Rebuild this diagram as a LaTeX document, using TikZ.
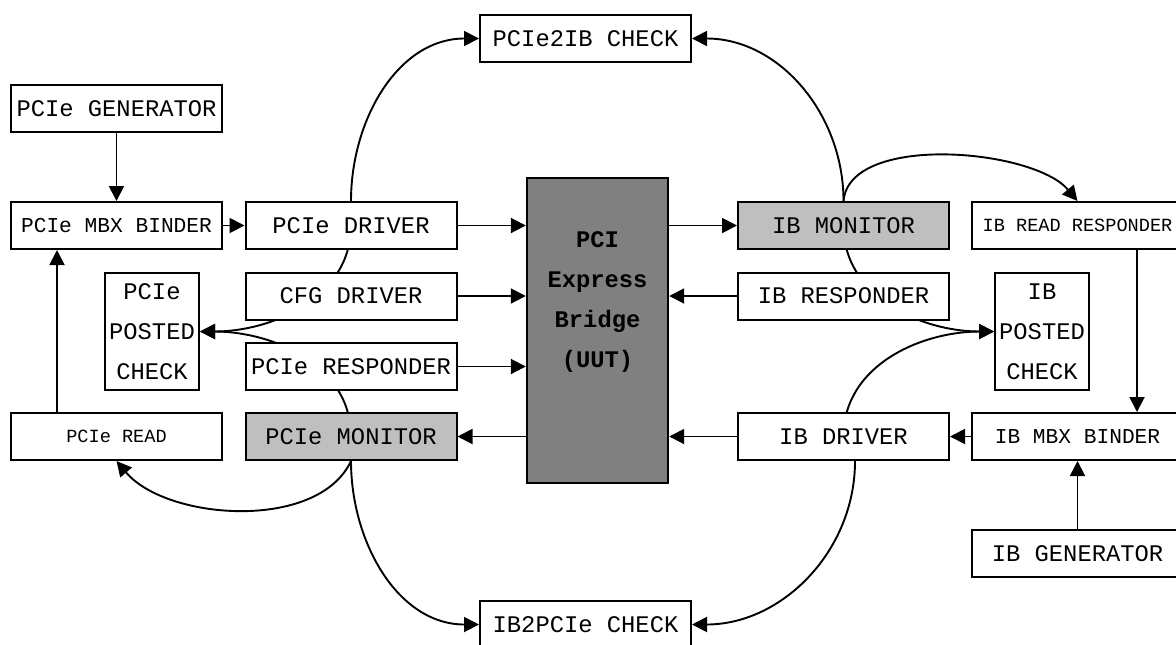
\documentclass[tikz,border=0pt]{standalone}
\usepackage{fontspec}
\setmonofont{Liberation Mono}
\usetikzlibrary{positioning,calc,arrows.meta,backgrounds}

\begin{document}
\begin{tikzpicture}[x=0.5pt,y=0.5pt,
	box/.style={draw,line width=1pt,fill=white,minimum width=105.5pt,minimum height=23.5pt,inner sep=0pt,font=\ttfamily\fontsize{11.9}{14}\selectfont},
	monbox/.style={box,fill=black!25},
	mbxbox/.style={box,font=\ttfamily\fontsize{10.6}{13}\selectfont},
	readbox/.style={box,font=\ttfamily\fontsize{9.3}{11}\selectfont},
	postbox/.style={box,minimum width=47pt,minimum height=58.5pt,align=center,font=\ttfamily\fontsize{11.9}{20}\selectfont},
	uutbox/.style={draw,line width=1.2pt,fill=black!50,minimum width=70.5pt,minimum height=152.5pt,inner sep=0pt},
	uuttext/.style={align=center,inner sep=0pt,font=\ttfamily\bfseries\fontsize{11.9}{20}\selectfont},
	arr/.style={line width=0.95pt,-{Triangle[length=7.5pt,width=7.5pt]}}]
	\useasboundingbox (0,0) rectangle (1176,-644);

	\node[box] (pgen) at (116.5,-108.5) {PCIe GENERATOR};
	\node[mbxbox] (pbind) at (116.5,-225.5) {PCIe MBX BINDER};
	\node[readbox] (pread) at (116.5,-436.5) {PCIe READ};
	\node[postbox] (pchk) at (152,-331.5) {PCIe\\POSTED\\CHECK};
	\node[box] (pdrv) at (351,-225.5) {PCIe DRIVER};
	\node[box] (cfg) at (351,-296) {CFG DRIVER};
	\node[box] (presp) at (351,-366.5) {PCIe RESPONDER};
	\node[monbox] (pmon) at (351,-436.5) {PCIe MONITOR};

	\node[uutbox] (uut) at (597.5,-330.5) {};
	\node[uuttext] (uuttxt) at (597.5,-302) {PCI\\Express\\Bridge\\(UUT)};
	\node[box] (p2ib) at (585.5,-38.5) {PCIe2IB CHECK};
	\node[box] (ib2p) at (585.5,-624.5) {IB2PCIe CHECK};

	\node[monbox] (ibmon) at (843.5,-225.5) {IB MONITOR};
	\node[box] (ibresp) at (843.5,-296) {IB RESPONDER};
	\node[box] (ibdrv) at (843.5,-436.5) {IB DRIVER};
	\node[readbox] (ibread) at (1077.5,-225.5) {IB READ RESPONDER};
	\node[postbox] (ibchk) at (1042,-331.5) {IB\\POSTED\\CHECK};
	\node[mbxbox] (ibbind) at (1077.5,-436.5) {IB MBX BINDER};
	\node[box] (ibgen) at (1077.5,-553.5) {IB GENERATOR};

	\begin{scope}[on background layer]
		\draw[arr] (pdrv.center) to[out=-90,in=0] (pchk.east);
		\draw[arr] (pmon.center) to[out=90,in=0] (pchk.east);
		\draw[arr] (ibmon.center) to[out=-90,in=180] (ibchk.west);
		\draw[arr] (ibdrv.center) to[out=90,in=180] (ibchk.west);
	\end{scope}

	\draw[arr] (pgen) -- (pbind);
	\draw[arr] (pbind) -- (pdrv);
	\draw[arr] ([xshift=23.5pt]pread.north west) -- ([xshift=23.5pt]pbind.south west);
	\draw[arr] (pdrv.east) -- (pdrv.east -| uut.west);
	\draw[arr] (cfg.east) -- (cfg.east -| uut.west);
	\draw[arr] (presp.east) -- (presp.east -| uut.west);
	\draw[arr] (pmon.east -| uut.west) -- (pmon.east);
	\draw[arr] (ibmon.west -| uut.east) -- (ibmon.west);
	\draw[arr] (ibresp.west) -- (ibresp.west -| uut.east);
	\draw[arr] (ibdrv.west) -- (ibdrv.west -| uut.east);
	\draw[arr] (ibbind) -- (ibdrv);
	\draw[arr] ([xshift=29.75pt]ibread.south) -- ([xshift=29.75pt]ibbind.north);
	\draw[arr] (ibgen) -- (ibbind);

	\draw[arr] (pdrv.north) to[out=90,in=180] (p2ib.west);
	\draw[arr] (ibmon.north) to[out=90,in=0] (p2ib.east);
	\draw[arr] (ibmon.north) to[out=85,in=130,looseness=0.75] (ibread.north);
	\draw[arr] (pmon.south) to[out=-115,in=-50,looseness=0.85] (pread.south);
	\draw[arr] (pmon.south) to[out=-90,in=180] (ib2p.west);
	\draw[arr] ([xshift=5.75pt]ibdrv.south) to[out=-90,in=0] (ib2p.east);
\end{tikzpicture}
\end{document}
